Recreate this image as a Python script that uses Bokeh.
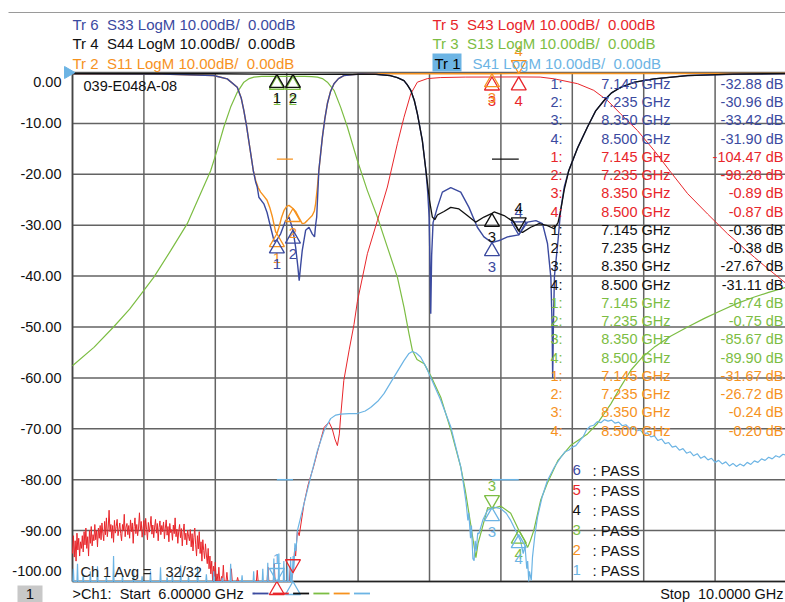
import numpy as np
from bokeh.plotting import figure
from bokeh.core.properties import value
from bokeh.embed import file_html
from bokeh.resources import INLINE

# ---------------- data ----------------
x_ticks = [6.0, 6.4, 6.8, 7.2, 7.6, 8.0, 8.4, 8.8, 9.2, 9.6, 10.0]
y_ticks = [0, -10, -20, -30, -40, -50, -60, -70, -80, -90, -100]
y_tick_labels = ["0.00", "-10.00", "-20.00", "-30.00", "-40.00", "-50.00",
                 "-60.00", "-70.00", "-80.00", "-90.00", "-100.00"]

# Tr 3  S13 (green)
s13_f = [6.00, 6.12, 6.23, 6.32, 6.40, 6.456, 6.55, 6.643, 6.717, 6.774, 6.81, 6.848, 6.886,
         6.923, 6.96, 6.99, 7.016, 7.06, 7.145, 7.235, 7.30, 7.34, 7.372, 7.40, 7.428, 7.465,
         7.502, 7.54, 7.596, 7.652, 7.708, 7.764, 7.82, 7.857, 7.885, 7.904, 7.93, 7.97, 8.007,
         8.063, 8.12, 8.175, 8.20, 8.23, 8.245, 8.26, 8.272, 8.287, 8.326, 8.35, 8.40, 8.455,
         8.5, 8.53, 8.55, 8.565, 8.584, 8.623, 8.66, 8.72, 8.79, 8.885, 8.94, 9.016, 9.07,
         9.128, 9.19, 9.258, 9.35, 9.446, 9.54, 9.632, 9.72, 9.82, 9.90, 10.0]
s13_v = [-57.6, -54.0, -50.0, -46.5, -42.8, -40.2, -35.0, -29.7, -23.8, -19.3, -15.3, -10.7, -6.8,
         -3.9, -1.9, -1.2, -0.9, -0.75, -0.74, -0.75, -0.75, -0.8, -0.9, -1.2, -1.9, -3.5,
         -6.8, -10.7, -17.3, -23.2, -28.4, -34.3, -40.2, -46.1, -51.3, -54.6, -56.4, -57.2, -59.6,
         -63.8, -70.3, -77.5, -82.0, -88.6, -92.0, -95.3, -92.5, -90.6, -85.5, -85.67, -85.2, -86.6,
         -89.9, -91.8, -93.3, -92.0, -90.0, -84.0, -80.7, -76.2, -73.3, -71.0, -69.0, -65.1, -61.8,
         -58.5, -56.0, -54.0, -51.8, -50.0, -48.3, -46.8, -45.4, -44.1, -43.2, -42.2]

# Tr 5  S43 (red): noise part (sweep 6.000 .. 6.950 GHz, 5 MHz step) then trace
s43_noise_v = [
    -94.5, -91.0, -95.2, -92.0, -96.0, -90.5, -93.8, -91.5, -95.0, -92.2, -93.5,
    -91.0, -94.2, -90.2, -92.8, -89.5, -93.5, -91.2, -95.0, -90.0, -92.5, -89.2, -93.0, -90.8,
    -92.0, -88.8, -91.8, -90.0, -93.2, -89.5, -91.5,
    -89.0, -91.8, -88.5, -90.5, -92.0, -88.2, -90.8, -87.5, -91.2, -89.5, -86.0, -90.2, -88.8,
    -91.5, -89.0, -92.3, -88.0, -90.5, -89.2, -87.8, -91.0, -89.8, -88.5, -90.6, -92.0, -88.8,
    -90.0, -86.8, -91.2, -89.3,
    -88.6, -90.8, -89.0, -91.5, -87.9, -90.2, -88.5, -92.5, -89.2, -87.5, -90.6, -88.8, -91.0,
    -89.5, -86.5, -90.0, -88.2, -91.3, -89.6, -88.0, -90.9, -87.6, -89.8, -91.8, -88.4, -90.3,
    -89.1, -87.2, -90.7, -88.9, -91.4, -89.3, -87.8, -90.5, -88.6, -92.0, -89.4, -88.1, -90.8,
    -89.0,
    -90.2, -88.3, -91.6, -89.5, -87.9, -90.9, -89.2, -92.2, -88.6, -90.4, -89.8, -91.9, -88.9,
    -90.6, -87.5, -91.2, -89.7, -92.5, -90.1, -88.8, -91.4, -89.6, -93.0, -90.3, -88.7, -91.8,
    -90.5, -92.8, -89.9, -91.1,
    -92.0, -89.8, -93.2, -90.6, -94.0, -91.3, -89.5, -92.8, -95.0, -91.0, -93.6, -90.2, -94.5,
    -92.2, -96.0, -91.8, -93.9, -95.5, -92.6, -94.8,
    -96.5, -93.5, -97.5, -95.0, -98.5, -96.0, -100.0, -97.0, -99.0, -96.2,
    -100, -98.5, -100, -97.2, -100, -100, -99.0, -100, -96.8, -100, -100, -100, -98.2, -100,
    -100, -100, -100, -97.5, -100, -100, -100, -100, -100, -100, -99.2, -100, -100, -100, -100,
    -100]
s43_noise_f = list(np.round(6.0 + 0.005 * np.arange(len(s43_noise_v)), 3))
s43_f = [6.96, 7.03, 7.035, 7.04, 7.09, 7.095, 7.10, 7.125, 7.13, 7.135, 7.20, 7.215, 7.22,
         7.225, 7.235, 7.245, 7.25, 7.26, 7.27, 7.297, 7.32, 7.35, 7.38, 7.41, 7.437, 7.455,
         7.47, 7.484, 7.495, 7.502, 7.52, 7.55, 7.577, 7.596, 7.652, 7.708, 7.764, 7.82, 7.857,
         7.895, 7.932, 7.988, 8.06, 8.2, 8.35, 8.5, 8.62, 8.70, 8.83, 8.92, 8.997, 9.07, 9.165,
         9.258, 9.352, 9.446, 9.558, 9.67, 9.82, 9.894, 10.0]
s43_v = [-100, -100, -97.8, -100, -100, -97.2, -100, -100, -96.5, -100, -100, -100, -97.0,
         -100, -98.3, -93.5, -95.0, -90.0, -91.0, -84.7, -81.0, -77.5, -73.5, -69.7, -68.7, -70.0,
         -72.0, -73.3, -71.0, -67.7, -60.5, -54.5, -49.5, -45.0, -35.6, -29.1, -22.5, -14.0, -8.8,
         -4.2, -1.9, -1.2, -1.0, -0.9, -0.89, -0.87, -0.9, -1.25, -2.2, -3.5, -5.5, -8.1, -11.4,
         -15.3, -19.6, -23.8, -27.8, -31.7, -36.3, -38.5, -41.5]

# Tr 2  S11 (orange)
s11_f = [6.00, 6.5, 6.79, 6.867, 6.923, 6.945, 6.96, 6.975, 6.99, 7.0, 7.013, 7.026, 7.04,
         7.054, 7.07, 7.09, 7.105, 7.12, 7.138, 7.145, 7.157, 7.17, 7.185, 7.2, 7.213, 7.235,
         7.25, 7.27, 7.287, 7.3, 7.315, 7.343, 7.355, 7.362, 7.372, 7.38, 7.39, 7.40, 7.414,
         7.428, 7.445, 7.465, 7.49, 7.52, 7.614, 8.35, 8.5, 10.0]
s11_v = [-0.3, -0.3, -0.6, -1.25, -2.9, -5.0, -7.5, -10.5, -14.0, -16.3, -19.3, -21.2, -22.6,
         -23.5, -24.2, -25.1, -26.5, -28.4, -31.3, -31.67, -30.4, -28.6, -27.1, -26.3, -26.1, -26.72,
         -27.3, -28.6, -29.7, -29.6, -29.1, -28.1, -27.2, -25.8, -22.5, -19.3, -16.0, -12.7, -9.0,
         -6.1, -3.8, -2.2, -1.2, -0.6, -0.26, -0.24, -0.20, -0.2]

# Tr 6  S33 (dark blue)
s33_f = [6.00, 6.5, 6.79, 6.867, 6.923, 6.945, 6.96, 6.975, 6.99, 7.0, 7.013, 7.026, 7.035,
         7.044, 7.072, 7.09, 7.11, 7.13, 7.145, 7.166, 7.194, 7.213, 7.235, 7.25, 7.262, 7.27,
         7.278, 7.287, 7.306, 7.325, 7.343, 7.356, 7.362, 7.368, 7.38, 7.39, 7.40, 7.414, 7.428,
         7.445, 7.465, 7.49, 7.52, 7.614, 7.70, 7.78, 7.82, 7.857, 7.875, 7.895, 7.915, 7.932,
         7.96, 7.98, 7.99, 7.998, 8.003, 8.007, 8.012, 8.02, 8.044, 8.072, 8.119, 8.175, 8.221,
         8.268, 8.305, 8.35, 8.40, 8.437, 8.5, 8.549, 8.596, 8.633, 8.661, 8.68, 8.687, 8.69,
         8.694, 8.70, 8.72, 8.735, 8.755, 8.78, 8.83, 8.885, 8.93, 8.978, 9.02, 9.072, 9.15,
         9.258, 9.446, 9.7, 10.0]
s33_v = [-0.25, -0.3, -0.6, -1.25, -2.9, -5.0, -7.5, -10.5, -14.0, -16.3, -19.3, -21.5, -22.5,
         -24.5, -25.8, -27.5, -30.4, -33.2, -32.88, -31.7, -29.1, -28.4, -30.96, -34.3, -38.0, -40.9,
         -38.0, -35.0, -31.0, -30.4, -31.7, -32.3, -30.0, -28.4, -19.3, -16.0, -12.7, -9.0, -6.1,
         -3.8, -2.2, -1.2, -0.6, -0.3, -0.35, -0.6, -1.0, -1.6, -2.4, -3.5, -5.5, -8.1,
         -13.4, -19.3, -23.5, -28.5, -38.0, -47.4, -36.0, -29.5, -26.5, -23.5, -22.6, -23.5, -26.5,
         -30.4, -32.3, -33.42, -32.9, -32.3, -31.9, -29.4, -29.1, -29.7, -33.6, -40.3, -50.0, -60.0,
         -50.0, -40.0, -33.0, -27.0, -22.5, -19.3, -14.8, -10.7, -7.6, -5.5, -4.0, -2.9, -1.9,
         -1.25, -0.6, -0.35, -0.25]

# Tr 4  S44 (black)
s44_f = [6.00, 6.8, 7.145, 7.235, 7.5, 7.70, 7.78, 7.82, 7.857, 7.875, 7.895, 7.915, 7.932,
         7.96, 7.98, 8.0, 8.016, 8.03, 8.044, 8.081, 8.119, 8.165, 8.212, 8.259, 8.305, 8.35,
         8.362, 8.418, 8.474, 8.5, 8.521, 8.567, 8.614, 8.661, 8.698, 8.72, 8.735, 8.755, 8.78,
         8.83, 8.885, 8.93, 8.978, 9.02, 9.072, 9.15, 9.258, 9.446, 9.7, 10.0]
s44_v = [-0.2, -0.25, -0.36, -0.38, -0.3, -0.35, -0.6, -1.0, -1.6, -2.4, -3.5, -5.5, -8.1,
         -13.4, -19.3, -25.1, -28.4, -28.9, -28.0, -27.3, -26.5, -26.8, -28.1, -29.4, -28.4, -27.67,
         -27.4, -28.1, -29.4, -31.11, -31.4, -30.4, -29.7, -30.1, -30.7, -29.5, -27.1, -23.0, -19.3,
         -14.8, -10.7, -7.6, -5.5, -4.0, -2.9, -1.9, -1.25, -0.6, -0.3, -0.2]

# Tr 1  S41 (light blue): spikes above the -100 dB floor, then the trace
s41_spike_f = [6.005, 6.028, 6.06, 6.10, 6.14, 6.19, 6.23, 6.28, 6.342, 6.39, 6.437, 6.493,
               6.53, 6.56, 6.606, 6.65, 6.701, 6.75, 6.791, 6.84, 6.886, 6.95, 7.015, 7.066,
               7.094, 7.128, 7.156, 7.184, 7.205, 7.222]
s41_spike_v = [-97.5, -96.5, -98.5, -98.0, -97.0, -99.0, -95.0, -98.8, -97.5, -99.0, -98.0, -97.2,
               -99.2, -98.5, -96.8, -99.0, -97.0, -98.6, -98.0, -99.3, -96.5, -98.8, -98.0, -97.5,
               -96.3, -95.5, -94.5, -96.0, -97.0, -95.2]
s41_f = [7.23, 7.236, 7.24, 7.246, 7.252, 7.26, 7.297, 7.334, 7.372, 7.41, 7.446, 7.475, 7.502,
         7.55, 7.596, 7.64, 7.67, 7.71, 7.745, 7.80, 7.857, 7.885, 7.904, 7.925, 7.95, 7.98,
         8.007, 8.063, 8.12, 8.175, 8.19, 8.205, 8.215, 8.22, 8.23, 8.235, 8.243, 8.25, 8.256,
         8.262, 8.27, 8.277, 8.30, 8.325, 8.36, 8.40, 8.43, 8.455, 8.48, 8.51, 8.525, 8.535,
         8.545, 8.55, 8.556, 8.56, 8.57, 8.577, 8.59, 8.605, 8.63, 8.66, 8.70,
         8.74, 8.76, 8.78, 8.80, 8.82, 8.84, 8.86, 8.88, 8.90, 8.92, 8.94, 8.96, 8.98, 9.00,
         9.02, 9.04, 9.06, 9.08, 9.10, 9.12, 9.14, 9.16, 9.18, 9.20, 9.22, 9.24, 9.26, 9.28,
         9.30, 9.32, 9.34, 9.36, 9.38, 9.40, 9.42, 9.44, 9.46, 9.48, 9.50, 9.52, 9.54, 9.56,
         9.58, 9.60, 9.62, 9.64, 9.66, 9.68, 9.70, 9.72, 9.74, 9.76, 9.78, 9.80, 9.82, 9.84,
         9.86, 9.88, 9.90, 9.92, 9.94, 9.96, 9.98, 10.0]
s41_v = [-100, -95.0, -97.5, -92.5, -94.0, -90.0, -84.7, -79.5, -74.3, -70.3, -68.0, -67.3, -67.1,
         -67.0, -67.0, -66.5, -65.8, -64.6, -63.1, -59.9, -56.6, -55.2, -54.8, -55.1, -55.9, -57.8,
         -59.9, -64.4, -69.7, -77.5, -80.8, -84.5, -88.0, -86.5, -91.5, -89.0, -95.5, -95.9, -92.0,
         -94.0, -90.5, -90.6, -87.8, -86.0, -85.4, -85.7, -86.6, -88.0, -89.8, -92.0, -94.5, -93.0,
         -97.5, -96.0, -100.0, -98.0, -99.8, -95.2, -91.0, -87.4, -83.5, -80.2, -77.5,
         -75.4, -74.5, -74.2, -73.6, -73.3, -72.4, -71.6, -70.2, -69.5, -69.3, -68.6, -68.8, -68.2, -68.5,
         -68.3, -68.9, -68.7, -69.4, -69.2, -69.9, -69.6, -70.4, -70.2, -71.0, -70.8, -71.6, -71.4, -72.3,
         -72.0, -72.9, -72.7, -73.6, -73.4, -74.2, -73.9, -74.8, -74.5, -75.3, -74.9, -75.8, -75.4, -76.1,
         -75.8, -76.6, -76.2, -76.9, -76.5, -77.3, -76.8, -77.4, -76.9, -77.3, -76.6, -77.0, -76.3, -76.6,
         -75.9, -76.2, -75.6, -75.9, -75.3, -75.6, -75.0, -75.2]

# markers (freq GHz) and their readouts
marker_f = [7.145, 7.235, 8.350, 8.500]
mk_s33 = [-32.88, -30.96, -33.42, -31.90]
mk_s43 = [-104.47, -98.28, -0.89, -0.87]
mk_s44 = [-0.36, -0.38, -27.67, -31.11]
mk_s13 = [-0.74, -0.75, -85.67, -89.90]
mk_s11 = [-31.67, -26.72, -0.24, -0.20]
mk_s41 = [-101.0, -101.5, -85.5, -90.8]

# limit lines: start, stop, level
lim_s11 = (7.145, 7.235, -17.0)
lim_s44 = (8.350, 8.500, -17.0)
lim_s41 = [(7.145, 7.235, -80.0), (8.350, 8.500, -80.0)]

pass_traces = ["6", "5", "4", "3", "2", "1"]

# ---------------- style / geometry ----------------
C33, C43, C44, C13, C11, C41 = "#3b4a9f", "#e8262b", "#111111", "#7cbd43", "#f6921e", "#6cb4e4"
FONT = "Liberation Sans"
W, H = 785, 602
PL, PR, PT, PB = 72, 786, 72, 581          # plot area in page pixels
X0, X1, Y0, Y1 = 6.0, 10.0, -100.0, 0.0
PXG = (PR - PL) / (X1 - X0)                 # px per GHz
PXDB = (PB - PT) / (Y1 - Y0)                # px per dB


def fx(px):  # page pixel -> GHz
    return X0 + (px - PL) / PXG


def fy(py):  # page pixel -> dB
    return Y1 - (py - PT) / PXDB


p = figure(width=W, height=H, x_range=(fx(0), fx(W)), y_range=(fy(H), fy(0)),
           output_backend="svg", toolbar_location=None,
           min_border_left=0, min_border_top=0, min_border_right=0, min_border_bottom=0,
           x_axis_location=None, y_axis_location=None)
p.grid.visible = False
p.outline_line_color = None
p.background_fill_color = "white"
p.border_fill_color = "white"

# outer panel line
p.segment(x0=[fx(8)], x1=[fx(W)], y0=[fy(12)], y1=[fy(12)], line_color="#9a9a9a", line_width=1)

# grid
GC, GW = "#636363", 1.5
p.segment(x0=x_ticks, x1=x_ticks, y0=[Y0] * len(x_ticks), y1=[Y1] * len(x_ticks), line_color=GC, line_width=GW)
p.segment(x0=[X0] * len(y_ticks), x1=[X1] * len(y_ticks), y0=y_ticks, y1=y_ticks, line_color=GC, line_width=GW)
p.segment(x0=[X0], x1=[X1], y0=[Y0], y1=[Y0], line_color="#222222", line_width=1.6)
p.segment(x0=[X0], x1=[X0], y0=[Y0], y1=[Y1], line_color="#444444", line_width=1.6)

# ---------- traces ----------
p.line(s13_f, s13_v, line_color=C13, line_width=1.2)
p.line(s43_noise_f + s43_f, s43_noise_v + s43_v, line_color=C43, line_width=1.0)
p.line(s11_f, s11_v, line_color=C11, line_width=1.4)
p.line(s33_f, s33_v, line_color=C33, line_width=1.4)
p.line(s44_f, s44_v, line_color=C44, line_width=1.3)

lb_f, lb_v = [6.0], [-100.0]
for f, v in zip(s41_spike_f, s41_spike_v):
    lb_f += [f - 0.003, f, f + 0.003]
    lb_v += [-100.0, v, -100.0]
p.line(lb_f + s41_f, lb_v + s41_v, line_color=C41, line_width=1.2)

# limit lines
p.segment(x0=[lim_s11[0]], x1=[lim_s11[1]], y0=[lim_s11[2]], y1=[lim_s11[2]], line_color=C11, line_width=1.3)
p.segment(x0=[lim_s44[0]], x1=[lim_s44[1]], y0=[lim_s44[2]], y1=[lim_s44[2]], line_color=C44, line_width=1.3)
p.segment(x0=[a for a, b, c in lim_s41], x1=[b for a, b, c in lim_s41],
          y0=[c for a, b, c in lim_s41], y1=[c for a, b, c in lim_s41], line_color=C41, line_width=1.5)

# ---------- markers ----------
TRI = 8.66  # px from apex to marker centre (size 15)
marker_sets = [
    (mk_s13, C13, ["u", "u", "d", "u"], [True, True, True, True]),
    (mk_s43, C43, ["u", "d", "u", "u"], [False, False, True, True]),
    (mk_s41, C41, ["d", "u", "u", "u"], [True, False, True, True]),
    (mk_s11, C11, ["u", "u", "u", "d"], [True, True, True, True]),
    (mk_s33, C33, ["u", "u", "u", "d"], [True, True, True, True]),
    (mk_s44, C44, ["u", "u", "u", "d"], [True, True, True, True]),
]
for vals, col, dirs, show in marker_sets:
    vd = [min(max(v, Y0), Y1) for v in vals]
    up_x = [f for f, d in zip(marker_f, dirs) if d == "u"]
    up_y = [v - TRI / PXDB for v, d in zip(vd, dirs) if d == "u"]
    dn_x = [f for f, d in zip(marker_f, dirs) if d == "d"]
    dn_y = [v + TRI / PXDB for v, d in zip(vd, dirs) if d == "d"]
    if up_x:
        p.scatter(up_x, up_y, marker="triangle", size=15, fill_color=None, line_color=col, line_width=1.3)
    if dn_x:
        p.scatter(dn_x, dn_y, marker="inverted_triangle", size=15, fill_color=None, line_color=col, line_width=1.3)
    lx, ly, lt, lo = [], [], [], []
    for i, (f, v, d, s) in enumerate(zip(marker_f, vd, dirs, show)):
        if s:
            lx.append(f); ly.append(v); lt.append(str(i + 1)); lo.append(24 if d == "u" else -23)
    p.text(x=lx, y=ly, text=lt, y_offset=lo, text_align="center", text_baseline="middle",
           text_font=value(FONT), text_font_size="15px", text_color=col)


def txt(xs, ys, texts, colors, size="15px", align="left", font=FONT):
    p.text(x=xs, y=ys, text=texts, text_color=colors, text_align=align, text_baseline="middle",
           text_font=value(font), text_font_size=size)


# ---------- marker table ----------
table = [(mk_s33, C33), (mk_s43, C43), (mk_s44, C44), (mk_s13, C13), (mk_s11, C11)]
ty, tc, tn, tfq, tval = [], [], [], [], []
row = 0
for vals, col in table:
    for i, (f, v) in enumerate(zip(marker_f, vals)):
        ty.append(fy(83.3 + 18.25 * row))
        tc.append(col)
        tn.append(f"{i + 1}:")
        tfq.append(f"{f:.3f} GHz")
        tval.append(f"{v:.2f} dB")
        row += 1
for px, texts in ((562, tn), (670, tfq), (783, tval)):
    txt([fx(px)] * len(ty), ty, texts, tc, size="14.5px", align="right")

# ---------- PASS list ----------
pass_cols = [C33, C43, C44, C13, C11, C41]
py_pass = [fy(469.5 + 20 * i) for i in range(len(pass_traces))]
txt([fx(572)] * 6, py_pass, pass_traces, pass_cols)
txt([fx(592)] * 6, py_pass, [": PASS"] * 6, ["#111111"] * 6)

# in-frame captions
txt([fx(83)], [fy(85)], ["039-E048A-08"], ["#111111"], size="14.5px")
txt([fx(80), fx(165)], [fy(571), fy(571)], ["Ch 1 Avg =", "32/32"], ["#222222"] * 2, size="14.5px")

# y tick labels
ty_lab = []
for t in y_ticks:
    py = PT + (Y1 - t) * PXDB
    if t == 0:
        py += 9
    elif t == -100:
        py -= 11
    ty_lab.append(fy(py))
txt([fx(61)] * len(y_ticks), ty_lab, y_tick_labels, ["#111111"] * len(y_ticks), size="14.5px", align="right")

# header
NB = "\u00a0"
hdr = f"LogM 10.00dB/{NB}{NB}0.00dB"
p.quad(left=[fx(432)], right=[fx(461)], top=[fy(53)], bottom=[fy(71)], fill_color=C41, line_color=None)
txt([fx(72), fx(72), fx(72), fx(432), fx(432), fx(434), fx(472)],
    [fy(23.5), fy(43), fy(62.5), fy(23.5), fy(43), fy(62.5), fy(62.5)],
    [f"Tr 6{NB}{NB}S33 {hdr}", f"Tr 4{NB}{NB}S44 {hdr}", f"Tr 2{NB}{NB}S11 {hdr}",
     f"Tr 5{NB}{NB}S43 {hdr}", f"Tr 3{NB}{NB}S13 {hdr}", "Tr 1", f"S41 {hdr}"],
    [C33, C44, C11, C43, C13, "#000000", C41])

# reference level pointer
p.scatter([fx(67.5)], [Y1], marker="triangle", angle=-np.pi / 2, size=12, fill_color=C41, line_color=C41)

# bottom bar
p.quad(left=[fx(17)], right=[fx(42)], top=[fy(585)], bottom=[fy(H + 2)], fill_color="#c8c8c8", line_color=None)
txt([fx(29.5)], [fy(593.5)], ["1"], ["#111111"], align="center")
txt([fx(72)], [fy(593.5)], [f">Ch1:{NB}{NB}Start{NB}{NB}6.00000 GHz"], ["#111111"], size="14.5px")
txt([fx(783)], [fy(593.5)], [f"Stop{NB}{NB}10.0000 GHz"], ["#111111"], size="14.5px", align="right")
dash_l = [252 + 20.3 * i for i in range(6)]
p.segment(x0=[fx(v) for v in dash_l], x1=[fx(v + 16) for v in dash_l], y0=[fy(593)] * 6,
          y1=[fy(593)] * 6, line_color=pass_cols, line_width=1.8)

open("out.html", "w").write(file_html(p, INLINE))
